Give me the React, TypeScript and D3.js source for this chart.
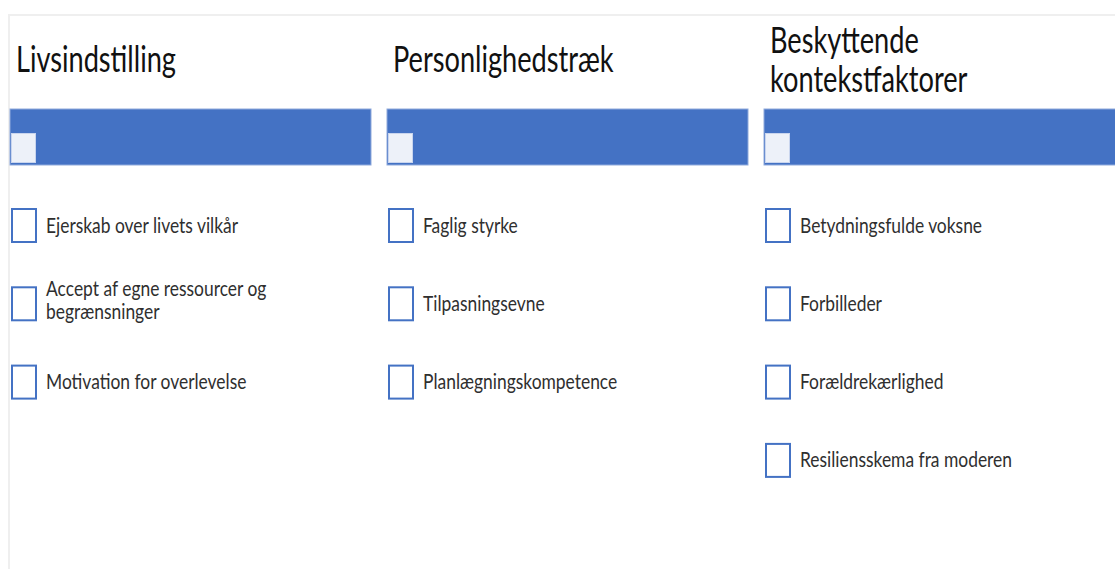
import { useEffect, useRef } from 'react';
import * as d3 from 'd3';

// Column headers (line breaks marked with \n)
const columnTitles = ['Livsindstilling', 'Personlighedstræk', 'Beskyttende\nkontekstfaktorer'];

// Checklist items per column
const livsindstillingItems = [
  'Ejerskab over livets vilkår',
  'Accept af egne ressourcer og\nbegrænsninger',
  'Motivation for overlevelse',
];
const personlighedItems = ['Faglig styrke', 'Tilpasningsevne', 'Planlægningskompetence'];
const kontekstItems = [
  'Betydningsfulde voksne',
  'Forbilleder',
  'Forældrekærlighed',
  'Resiliensskema fra moderen',
];

const columnItems = [livsindstillingItems, personlighedItems, kontekstItems];

const W = 1115;
const H = 569;
const BLUE = '#4472C4';
const FONT = 'Lato, "Open Sans", sans-serif';

const App = () => {
  const svgRef = useRef<SVGSVGElement>(null);

  useEffect(() => {
    const svg = d3.select(svgRef.current);
    svg.selectAll('*').remove();

    // Column positions
    const xCol = d3.scaleLinear().domain([0, 1]).range([10, 387]);
    const colWidth = 361;

    // Item row positions (top of checkbox)
    const yRow = d3.scaleLinear().domain([0, 1]).range([208, 286.3]);
    const boxW = 26;
    const boxH = 35;

    // Outer frame
    svg
      .append('rect')
      .attr('x', 9)
      .attr('y', 15)
      .attr('width', W + 20)
      .attr('height', H + 20)
      .attr('fill', 'none')
      .attr('stroke', '#efefef')
      .attr('stroke-width', 2);

    const titleScale = 0.755;
    const itemScale = 0.85;

    columnTitles.forEach((title, i) => {
      const x0 = xCol(i);
      const g = svg.append('g');

      // Title
      const lines = title.split('\n');
      const titleLH = 39;
      const titleMid = 72;
      lines.forEach((line, j) => {
        const y = titleMid - ((lines.length - 1) * titleLH) / 2 + j * titleLH;
        g.append('text')
          .attr('transform', `translate(${x0 + 6},${y}) scale(${titleScale},1)`)
          .attr('font-family', FONT)
          .attr('font-size', 36)
          .attr('fill', '#111')
          .text(line);
      });

      // Blue header bar
      g.append('rect')
        .attr('x', x0)
        .attr('y', 109)
        .attr('width', colWidth)
        .attr('height', 56)
        .attr('fill', BLUE)
        .attr('stroke', '#8faadc')
        .attr('stroke-width', 1);

      g.append('rect')
        .attr('x', x0 + 1.5)
        .attr('y', 133.5)
        .attr('width', 24)
        .attr('height', 29)
        .attr('fill', '#EDF1F9')
        .attr('stroke', '#c9d5ee')
        .attr('stroke-width', 1);

      // Items
      columnItems[i].forEach((item, k) => {
        const top = yRow(k);
        const cy = top + boxH / 2;
        g.append('rect')
          .attr('x', x0 + 2)
          .attr('y', top + 1)
          .attr('width', boxW - 2)
          .attr('height', boxH - 2)
          .attr('fill', '#fff')
          .attr('stroke', BLUE)
          .attr('stroke-width', 2);

        const itemLines = item.split('\n');
        const lh = 23;
        itemLines.forEach((line, j) => {
          const y = cy + 7 - ((itemLines.length - 1) * lh) / 2 + j * lh - (itemLines.length - 1) * 3;
          g.append('text')
            .attr('transform', `translate(${x0 + 36},${y}) scale(${itemScale},1)`)
            .attr('font-family', FONT)
            .attr('font-size', 20.5)
            .attr('fill', '#2f2f2f')
            .text(line);
        });
      });
    });
  }, []);

  return (
    <svg
      ref={svgRef}
      width={W}
      height={H}
      style={{ position: 'absolute', left: 0, top: 0, background: '#fff' }}
    />
  );
};

export default App;
